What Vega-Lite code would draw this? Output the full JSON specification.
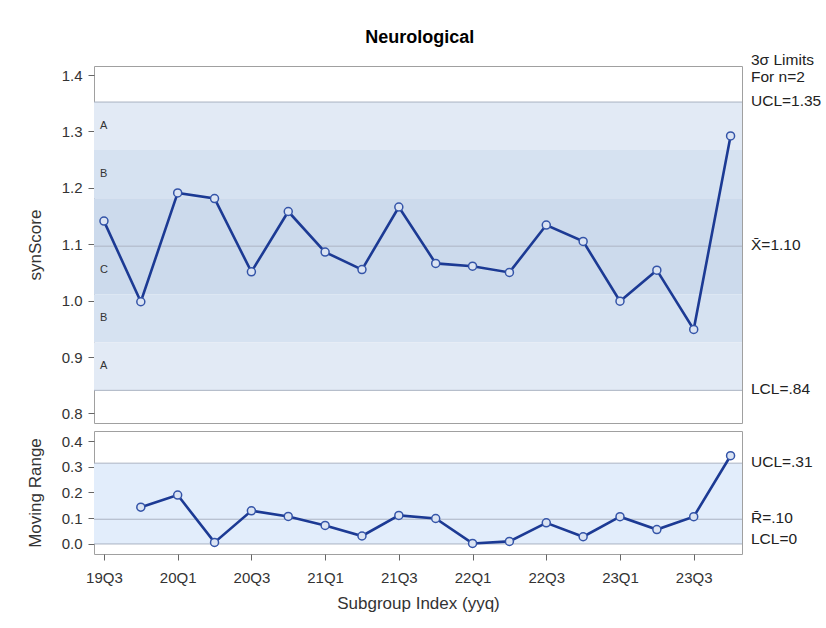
{
  "$schema": "https://vega.github.io/schema/vega-lite/v6.json",
  "background": "white",
  "padding": {"left": 25, "top": 28, "right": 5, "bottom": 5},
  "title": {"text": "Neurological", "fontSize": 18, "fontWeight": "bold", "font": "Liberation Sans", "color": "#000000", "offset": 6, "dx": -4, "anchor": "middle"},
  "config": {
    "font": "Liberation Sans",
    "view": {"stroke": "#a0a0a0", "strokeWidth": 1},
    "axis": {
      "labelFont": "Liberation Sans", "labelFontSize": 15, "labelColor": "#333333", "labelOverlap": false,
      "titleFont": "Liberation Sans", "titleFontSize": 17, "titleFontWeight": "normal", "titleColor": "#333333",
      "tickColor": "#666666", "tickSize": 6, "labelPadding": 6, "domain": false, "grid": false
    },
    "text": {"font": "Liberation Sans"}
  },
  "spacing": 6,
  "datasets": {
    "sub": [
      {"idx": 0, "q": "19Q3", "score": 1.141, "mr": null},
      {"idx": 1, "q": "19Q4", "score": 0.998, "mr": 0.143},
      {"idx": 2, "q": "20Q1", "score": 1.191, "mr": 0.190},
      {"idx": 3, "q": "20Q2", "score": 1.181, "mr": 0.006},
      {"idx": 4, "q": "20Q3", "score": 1.051, "mr": 0.129},
      {"idx": 5, "q": "20Q4", "score": 1.158, "mr": 0.107},
      {"idx": 6, "q": "21Q1", "score": 1.086, "mr": 0.072},
      {"idx": 7, "q": "21Q2", "score": 1.055, "mr": 0.031},
      {"idx": 8, "q": "21Q3", "score": 1.166, "mr": 0.111},
      {"idx": 9, "q": "21Q4", "score": 1.066, "mr": 0.099},
      {"idx": 10, "q": "22Q1", "score": 1.061, "mr": 0.002},
      {"idx": 11, "q": "22Q2", "score": 1.050, "mr": 0.010},
      {"idx": 12, "q": "22Q3", "score": 1.134, "mr": 0.082},
      {"idx": 13, "q": "22Q4", "score": 1.105, "mr": 0.028},
      {"idx": 14, "q": "23Q1", "score": 0.999, "mr": 0.106},
      {"idx": 15, "q": "23Q2", "score": 1.054, "mr": 0.056},
      {"idx": 16, "q": "23Q3", "score": 0.949, "mr": 0.106},
      {"idx": 17, "q": "23Q4", "score": 1.292, "mr": 0.343}
    ],
    "zones": [
      {"zone": "A", "lo": 1.2669, "hi": 1.3521},
      {"zone": "B", "lo": 1.1817, "hi": 1.2669},
      {"zone": "C", "lo": 1.0965, "hi": 1.1817},
      {"zone": "C", "lo": 1.0113, "hi": 1.0965},
      {"zone": "B", "lo": 0.9261, "hi": 1.0113},
      {"zone": "A", "lo": 0.8409, "hi": 0.9261}
    ],
    "limits": [
      {"name": "UCL", "value": 1.3521, "label": "UCL=1.35"},
      {"name": "CL", "value": 1.0965, "label": "X\u0304=1.10"},
      {"name": "LCL", "value": 0.8409, "label": "LCL=.84"}
    ],
    "header": [{"value": 1.3521, "note": "3σ Limits\nFor n=2"}],
    "mrband": [{"lo": 0, "hi": 0.314}],
    "mrlimits": [
      {"name": "UCL", "value": 0.314, "label": "UCL=.31"},
      {"name": "CL", "value": 0.0961, "label": "R\u0304=.10"},
      {"name": "LCL", "value": 0, "label": "LCL=0"}
    ]
  },
  "vconcat": [
    {
      "width": 648,
      "height": 357,
      "layer": [
        {
          "data": {"name": "zones"},
          "mark": {"type": "rect"},
          "encoding": {
            "x": {"datum": -0.27, "type": "quantitative", "scale": {"domain": [-0.27, 17.31], "nice": false, "zero": false}, "axis": null},
            "x2": {"datum": 17.31},
            "y": {"field": "lo", "type": "quantitative",
                  "scale": {"domain": [0.783, 1.416], "nice": false, "zero": false},
                  "axis": {"title": "synScore", "values": [0.8, 0.9, 1.0, 1.1, 1.2, 1.3, 1.4], "format": ".1f", "titlePadding": 17, "labelOverlap": false}},
            "y2": {"field": "hi"},
            "color": {"field": "zone", "type": "nominal", "legend": null,
                      "scale": {"domain": ["A", "B", "C"], "range": ["#e2eaf5", "#d6e2f1", "#ccdaec"]}}
          }
        },
        {
          "data": {"name": "limits"},
          "mark": {"type": "rule", "color": "#aab3c2", "strokeWidth": 1},
          "encoding": {
            "x": {"datum": -0.27, "type": "quantitative", "axis": null},
            "x2": {"datum": 17.31},
            "y": {"field": "value", "type": "quantitative"}
          }
        },
        {
          "data": {"name": "zones"},
          "transform": [{"calculate": "(datum.lo + datum.hi) / 2", "as": "mid"}],
          "mark": {"type": "text", "align": "left", "baseline": "middle", "dx": 6, "fontSize": 11, "color": "#333333"},
          "encoding": {
            "x": {"datum": -0.27, "type": "quantitative", "axis": null},
            "y": {"field": "mid", "type": "quantitative"},
            "text": {"field": "zone", "type": "nominal"}
          }
        },
        {
          "data": {"name": "sub"},
          "mark": {"type": "line", "color": "#1c3a94", "strokeWidth": 2.6},
          "encoding": {
            "x": {"field": "idx", "type": "quantitative", "axis": null},
            "y": {"field": "score", "type": "quantitative"}
          }
        },
        {
          "data": {"name": "sub"},
          "mark": {"type": "point", "shape": "circle", "filled": true, "fill": "#dbe4f3", "stroke": "#3454a8", "strokeWidth": 1.5, "size": 64, "opacity": 1},
          "encoding": {
            "x": {"field": "idx", "type": "quantitative", "axis": null},
            "y": {"field": "score", "type": "quantitative"}
          }
        },
        {
          "data": {"name": "limits"},
          "mark": {"type": "text", "align": "left", "baseline": "middle", "dx": 9, "dy": -1, "fontSize": 15.5, "color": "#222222"},
          "encoding": {
            "x": {"datum": 17.31, "type": "quantitative", "axis": null},
            "y": {"field": "value", "type": "quantitative"},
            "text": {"field": "label", "type": "nominal"}
          }
        },
        {
          "data": {"name": "header"},
          "mark": {"type": "text", "align": "left", "baseline": "middle", "dx": 9, "dy": -42, "lineBreak": "\n", "lineHeight": 16.6, "fontSize": 15.5, "color": "#222222"},
          "encoding": {
            "x": {"datum": 17.31, "type": "quantitative", "axis": null},
            "y": {"field": "value", "type": "quantitative"},
            "text": {"field": "note", "type": "nominal"}
          }
        }
      ]
    },
    {
      "width": 648,
      "height": 123,
      "layer": [
        {
          "data": {"name": "mrband"},
          "mark": {"type": "rect", "color": "#e2edfb"},
          "encoding": {
            "x": {"datum": -0.27, "type": "quantitative",
                  "scale": {"domain": [-0.27, 17.31], "nice": false, "zero": false},
                  "axis": {"title": "Subgroup Index (yyq)", "values": [0, 2, 4, 6, 8, 10, 12, 14, 16],
                           "labelExpr": "(19 + floor((datum.value + 2) / 4)) + 'Q' + ((datum.value + 2) % 4 + 1)",
                           "labelPadding": 10, "titlePadding": 10, "labelOverlap": false}},
            "x2": {"datum": 17.31},
            "y": {"field": "lo", "type": "quantitative",
                  "scale": {"domain": [-0.039, 0.439], "nice": false, "zero": false},
                  "axis": {"title": "Moving Range", "values": [0, 0.1, 0.2, 0.3, 0.4], "tickCount": 5, "format": ".1f", "titlePadding": 17, "labelOverlap": false}},
            "y2": {"field": "hi"}
          }
        },
        {
          "data": {"name": "mrlimits"},
          "mark": {"type": "rule", "color": "#aab3c2", "strokeWidth": 1},
          "encoding": {
            "x": {"datum": -0.27, "type": "quantitative"},
            "x2": {"datum": 17.31},
            "y": {"field": "value", "type": "quantitative",
                  "axis": {"title": "Moving Range", "values": [0, 0.1, 0.2, 0.3, 0.4], "tickCount": 5, "format": ".1f", "titlePadding": 17, "labelOverlap": false}}
          }
        },
        {
          "data": {"name": "sub"},
          "transform": [{"filter": "datum.mr != null"}],
          "mark": {"type": "line", "color": "#1c3a94", "strokeWidth": 2.6},
          "encoding": {
            "x": {"field": "idx", "type": "quantitative"},
            "y": {"field": "mr", "type": "quantitative",
                  "axis": {"title": "Moving Range", "values": [0, 0.1, 0.2, 0.3, 0.4], "tickCount": 5, "format": ".1f", "titlePadding": 17, "labelOverlap": false}}
          }
        },
        {
          "data": {"name": "sub"},
          "transform": [{"filter": "datum.mr != null"}],
          "mark": {"type": "point", "shape": "circle", "filled": true, "fill": "#dbe4f3", "stroke": "#3454a8", "strokeWidth": 1.5, "size": 64, "opacity": 1},
          "encoding": {
            "x": {"field": "idx", "type": "quantitative"},
            "y": {"field": "mr", "type": "quantitative",
                  "axis": {"title": "Moving Range", "values": [0, 0.1, 0.2, 0.3, 0.4], "tickCount": 5, "format": ".1f", "titlePadding": 17, "labelOverlap": false}}
          }
        },
        {
          "data": {"name": "mrlimits"},
          "transform": [{"filter": "datum.name != 'LCL'"}],
          "mark": {"type": "text", "align": "left", "baseline": "middle", "dx": 9, "dy": -1, "fontSize": 15.5, "color": "#222222"},
          "encoding": {
            "x": {"datum": 17.31, "type": "quantitative"},
            "y": {"field": "value", "type": "quantitative",
                  "axis": {"title": "Moving Range", "values": [0, 0.1, 0.2, 0.3, 0.4], "tickCount": 5, "format": ".1f", "titlePadding": 17, "labelOverlap": false}},
            "text": {"field": "label", "type": "nominal"}
          }
        },
        {
          "data": {"name": "mrlimits"},
          "transform": [{"filter": "datum.name == 'LCL'"}],
          "mark": {"type": "text", "align": "left", "baseline": "middle", "dx": 9, "dy": -5, "fontSize": 15.5, "color": "#222222"},
          "encoding": {
            "x": {"datum": 17.31, "type": "quantitative"},
            "y": {"field": "value", "type": "quantitative",
                  "axis": {"title": "Moving Range", "values": [0, 0.1, 0.2, 0.3, 0.4], "tickCount": 5, "format": ".1f", "titlePadding": 17, "labelOverlap": false}},
            "text": {"field": "label", "type": "nominal"}
          }
        }
      ]
    }
  ]
}
